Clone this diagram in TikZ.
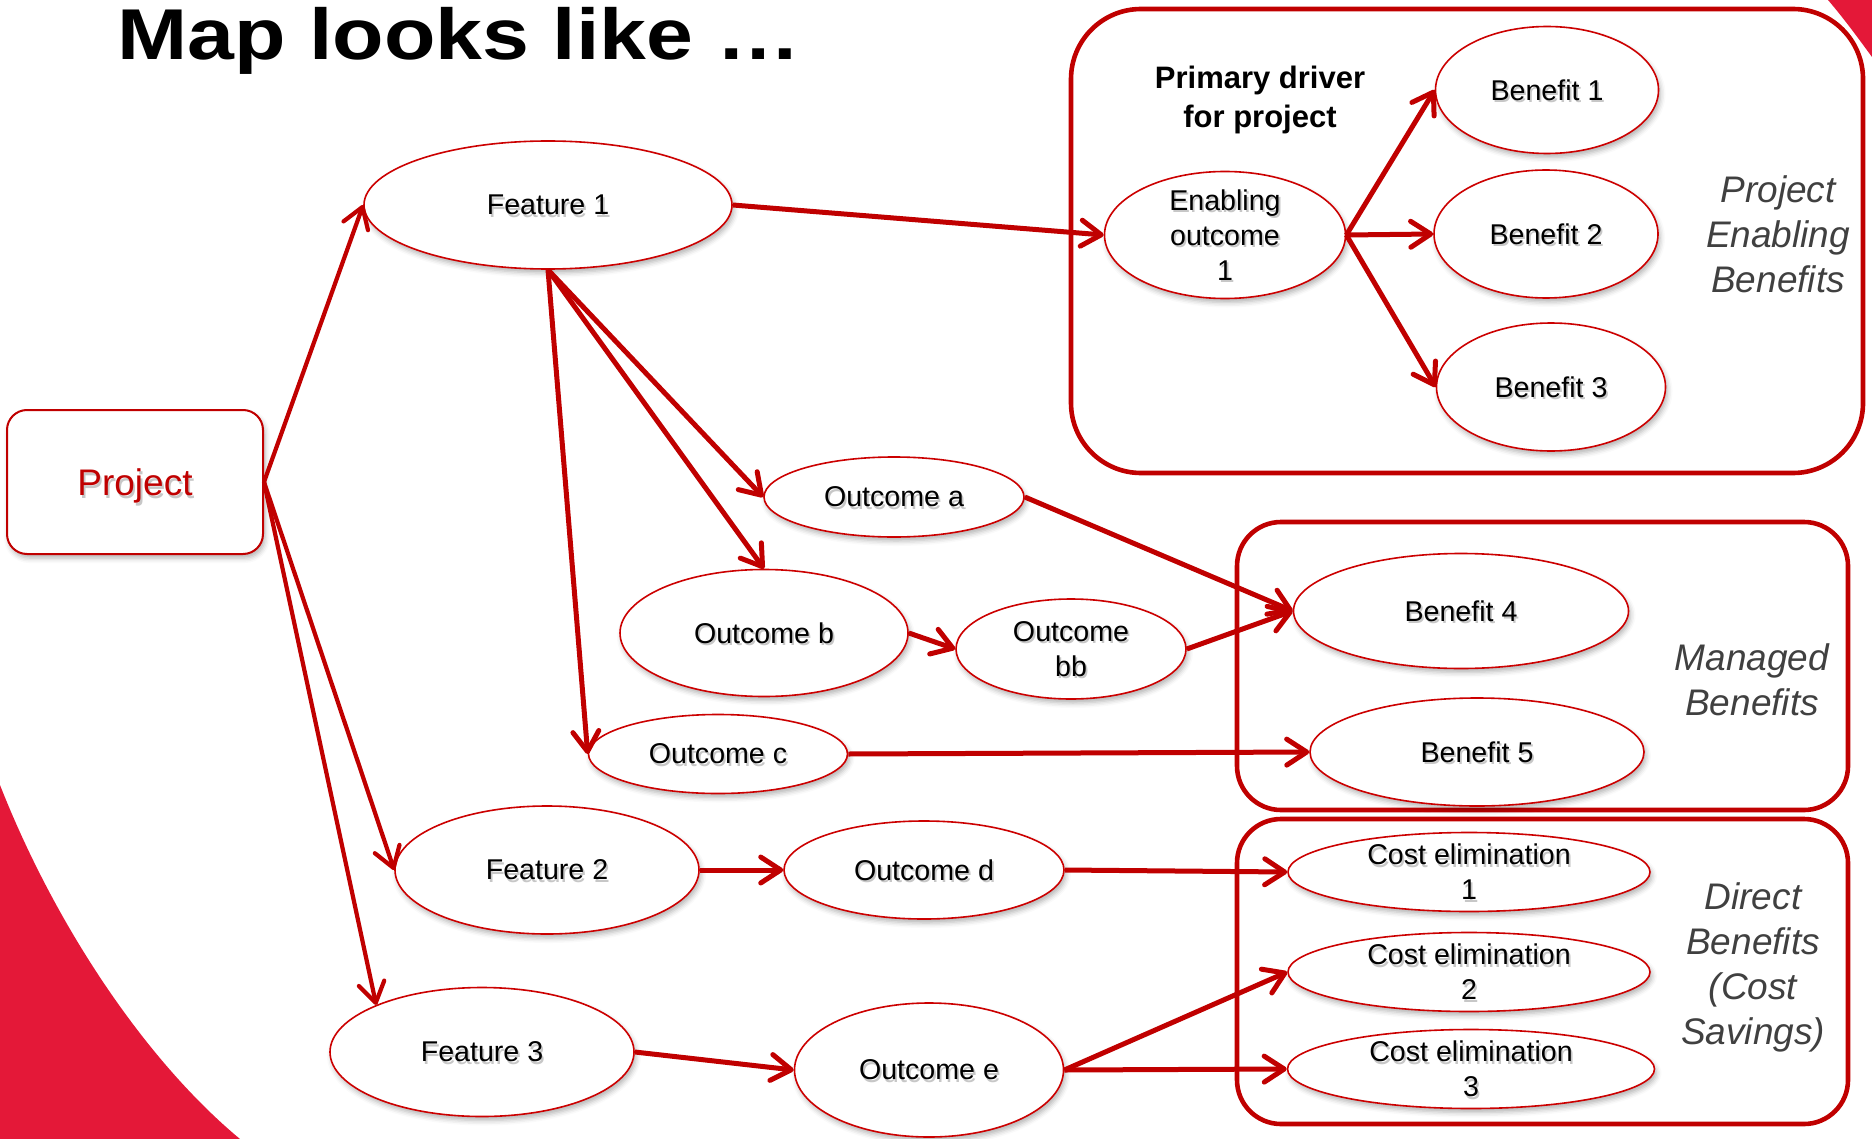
\documentclass[tikz,border=0pt]{standalone}
\usepackage{fontspec}
\setmainfont{Liberation Sans}
\newfontfamily\titlefont[FakeStretch=1.17]{Liberation Sans}
\usetikzlibrary{arrows.meta,shapes.geometric,shadows.blur}
\definecolor{linered}{RGB}{192,0,0}
\definecolor{ellred}{RGB}{204,0,0}
\definecolor{slidered}{RGB}{228,24,56}
\definecolor{sidegrey}{RGB}{64,64,64}
\newcommand\shl[1]{\makebox[0pt][l]{\hspace{0.9pt}\raisebox{-1.3pt}[0pt][0pt]{\color{black!22}#1}}#1}
\tikzset{
  ell/.style={shape=ellipse, draw=ellred, line width=0.8pt, fill=white,
    inner xsep=-20pt, inner ysep=-20pt, align=center,
    font=\fontsize{14.3}{17.5}\selectfont,
    blur shadow={shadow xshift=1pt, shadow yshift=-2pt, shadow blur radius=2.5pt, shadow opacity=30}},
  grp/.style={draw=linered, line width=2.3pt},
  arr/.style={draw=linered, line width=2.5pt, -{Straight Barb[length=10pt,width=13pt,round]}},
  arrP/.style={draw=linered, line width=2.1pt, -{Straight Barb[length=10pt,width=13pt,round]}},
  side/.style={font=\fontsize{18.5}{22.5}\selectfont\itshape, text=sidegrey, align=center, inner sep=0pt},
}
\begin{document}
\begin{tikzpicture}[x=0.5pt,y=-0.5pt]
\useasboundingbox (0,0) rectangle (1872,1139);
% slide decoration
\fill[slidered] (0,785) .. controls (55,925) and (145,1060) .. (240,1139) -- (0,1139) -- cycle;
\fill[slidered] (1828,0) .. controls (1845,20) and (1858,38) .. (1872,57) -- (1872,0) -- cycle;
% title
\node[anchor=base west, inner sep=0pt, font=\titlefont\bfseries\fontsize{36}{40}\selectfont] (title) at (117,60) {Map looks like …};
% group boxes
\draw[grp, rounded corners=35pt] (1071,9) rectangle (1863,473);
\draw[grp, rounded corners=22pt] (1237,522) rectangle (1848,810);
\draw[grp, rounded corners=22pt] (1237,819) rectangle (1848,1124);
\node[font=\fontsize{15.5}{19.5}\selectfont\bfseries, align=center, inner sep=0pt] (pd) at (1260,100) {Primary driver\\for project};
\node[side] (peb) at (1778,234) {Project\\Enabling\\Benefits};
\node[side] (mb) at (1752,680) {Managed\\Benefits};
\node[side] (db) at (1753,967) {Direct\\Benefits\\(Cost\\Savings)};
% project
\node[draw=linered, line width=1pt, rounded corners=10pt, fill=white, minimum width=128pt, minimum height=72pt,
  text=linered, font=\fontsize{18.5}{22}\selectfont, text depth=0pt,
  blur shadow={shadow xshift=1pt, shadow yshift=-2pt, shadow blur radius=2.5pt, shadow opacity=30}] (proj) at (135,482) {\shl{Project}};
% ellipses
\node[ell, minimum width=184pt, minimum height=64pt] (f1) at (548,205) {\shl{Feature 1}};
\node[ell, minimum width=152pt, minimum height=64pt] (f2) at (547,870) {\shl{Feature 2}};
\node[ell, minimum width=152pt, minimum height=64.5pt] (f3) at (482,1052) {\shl{Feature 3}};
\node[ell, minimum width=120.5pt, minimum height=63.5pt] (en) at (1225,235) {\shl{Enabling}\\\shl{outcome}\\\shl{1}};
\node[ell, minimum width=111.5pt, minimum height=63.5pt] (b1) at (1547,90) {\shl{Benefit 1}};
\node[ell, minimum width=112pt, minimum height=64pt] (b2) at (1546,234) {\shl{Benefit 2}};
\node[ell, minimum width=114.5pt, minimum height=64pt] (b3) at (1551,387) {\shl{Benefit 3}};
\node[ell, minimum width=130pt, minimum height=40pt] (oa) at (894,497) {\shl{Outcome a}};
\node[ell, minimum width=144pt, minimum height=63.5pt] (ob) at (764,633) {\shl{Outcome b}};
\node[ell, minimum width=115pt, minimum height=50pt] (obb) at (1071,649) {\shl{Outcome}\\\shl{bb}};
\node[ell, minimum width=129.5pt, minimum height=39.5pt] (oc) at (718,754) {\shl{Outcome c}};
\node[ell, minimum width=167.5pt, minimum height=57.5pt] (b4) at (1461,611) {\shl{Benefit 4}};
\node[ell, minimum width=167pt, minimum height=54pt] (b5) at (1477,752) {\shl{Benefit 5}};
\node[ell, minimum width=140pt, minimum height=49pt] (od) at (924,870) {\shl{Outcome d}};
\node[ell, minimum width=134.5pt, minimum height=67pt] (oe) at (929,1070) {\shl{Outcome e}};
\node[ell, minimum width=181pt, minimum height=39.5pt] (ce1) at (1469,872) {\shl{Cost elimination}\\\shl{1}};
\node[ell, minimum width=181pt, minimum height=39.5pt] (ce2) at (1469,972) {\shl{Cost elimination}\\\shl{2}};
\node[ell, minimum width=183.5pt, minimum height=39.5pt] (ce3) at (1471,1069) {\shl{Cost elimination}\\\shl{3}};
% connectors
\draw[arrP] (proj.east) -- (f1.west);
\draw[arrP] (proj.east) -- (f2.west);
\draw[arrP] (proj.east) -- (f3.156);
\draw[arr] (f1.east) -- (en.west);
\draw[arr] (en.east) -- (b1.west);
\draw[arr] (en.east) -- (b2.west);
\draw[arr] (en.east) -- (b3.west);
\draw[arr] (f1.south) -- (oa.west);
\draw[arr] (f1.south) -- (ob.north);
\draw[arr] (f1.south) -- (oc.west);
\draw[arr] (ob.east) -- (obb.west);
\draw[arr] (oa.east) -- (b4.west);
\draw[arr] (obb.east) -- (b4.west);
\draw[arr] (oc.east) -- (b5.west);
\draw[arr] (f2.east) -- (od.west);
\draw[arr] (od.east) -- (ce1.west);
\draw[arr] (f3.east) -- (oe.west);
\draw[arr] (oe.east) -- (ce2.west);
\draw[arr] (oe.east) -- (ce3.west);
\end{tikzpicture}
\end{document}
